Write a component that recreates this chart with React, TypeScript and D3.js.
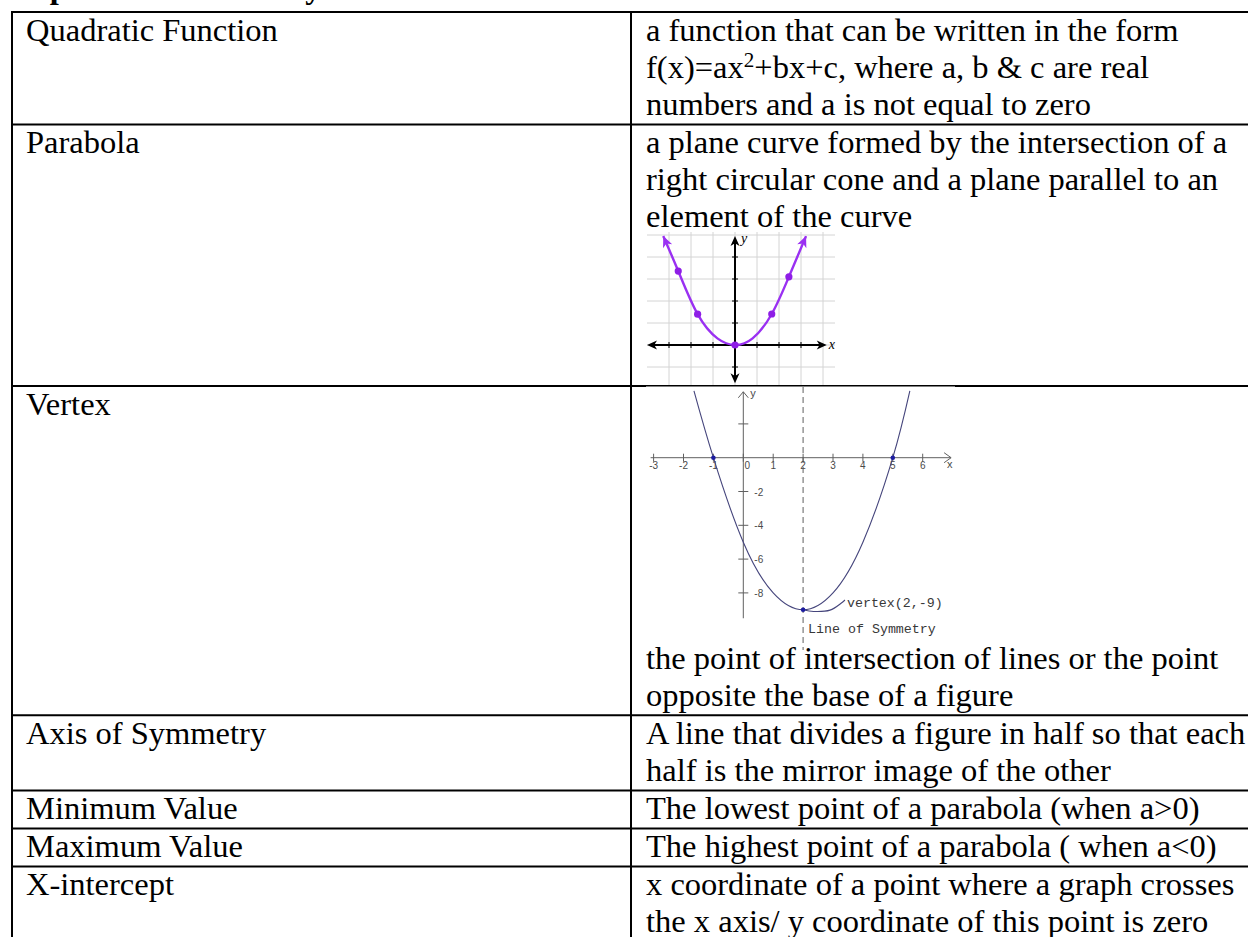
import React, { useEffect, useRef } from 'react'
import * as d3 from 'd3'

// heading above the table (only its descenders show at the top edge)
const heading = 'Important Vocabulary'

// left column
const terms = [
  'Quadratic Function',
  'Parabola',
  'Vertex',
  'Axis of Symmetry',
  'Minimum Value',
  'Maximum Value',
  'X-intercept',
]

// right column, one entry per printed line ("^2" = superscript)
const definitions = [
  ['a function that can be written in the form', 'f(x)=ax^2+bx+c, where a, b & c are real', 'numbers and a is not equal to zero'],
  ['a plane curve formed by the intersection of a', 'right circular cone and a plane parallel to an', 'element of the curve'],
  ['the point of intersection of lines or the point', 'opposite the base of a figure'],
  ['A line that divides a figure in half so that each', 'half is the mirror image of the other'],
  ['The lowest point of a parabola (when a>0)'],
  ['The highest point of a parabola ( when a<0)'],
  ['x coordinate of a point where a graph crosses', 'the x axis/ y coordinate of this point is zero'],
]

// picture carried by each row
const figures = ['', 'parabola', 'vertex', '', '', '', '']

// purple parabola sketch, in grid units
const parabolaGridX = [-3, -2, -1, 0, 1, 2, 3, 4]
const parabolaGridY = [-1, 0, 1, 2, 3, 4, 5]
const parabolaTicksX = [-3, -2, -1, 1, 2, 3]
const parabolaTicksY = [-1, 1, 2, 3, 4]
const parabolaCurve = [[-3.26, 4.95], [-2.58, 3.36], [-1.7, 1.4], [-0.8, 0.3], [0, 0], [0.8, 0.3], [1.67, 1.41], [2.45, 3.1], [3.23, 4.95]]
const parabolaDots = [[-2.58, 3.36], [-1.7, 1.4], [0, 0], [1.67, 1.41], [2.45, 3.1]]

// vertex sketch
const vertexXTicks = [-3, -2, -1, 0, 1, 2, 3, 4, 5, 6]
const vertexYTicks = [2, -2, -4, -6, -8]
const vertexYLabels = ['', '-2', '-4', '-6', '-8']
const vertexCurve = [[-1.65, 3.96], [-1, 0], [0, -5], [1, -8], [2, -9], [3, -8], [4, -5], [5, 0], [5.57, 3.96]]
const vertexDots = [[-1, 0], [5, 0], [2, -9]]
const symmetryX = 2
const leader = [[2, -9], [2.35, -9.1], [2.9, -9.02], [3.28, -8.6], [3.4, -8.42]]
const vertexLabel = 'vertex(2,-9)'
const symmetryLabel = 'Line of Symmetry'

export default function App() {
  const ref = useRef<SVGSVGElement>(null)

  useEffect(() => {
    const svg = d3.select(ref.current)
    svg.selectAll('*').remove()

    const W = 1248, H = 937
    const serif = "'Times New Roman', 'Liberation Serif', serif"
    const fs = 32.5, lineH = 37.2, base = 28.5, pad = 0.8
    const left = 12, mid = 631, textL = 26, textR = 646
    const figH: any = { parabola: 149.2, vertex: 254 }

    // row tops from line counts
    const tops: number[] = []
    let y = 12
    definitions.forEach((lines, i) => {
      tops.push(y)
      y += lines.length * lineH + pad + (figH[figures[i]] || 0)
    })
    tops.push(y)

    svg.append('rect').attr('width', W).attr('height', H).attr('fill', '#fff')

    // heading, mostly off the top
    svg.append('text')
      .attr('x', 10).attr('y', -2)
      .attr('font-family', serif).attr('font-size', fs).attr('font-weight', 'bold')
      .text(heading)

    // table rules
    const grid = svg.append('g').attr('stroke', '#000').attr('stroke-width', 2)
    tops.forEach(t => grid.append('line').attr('x1', left - 1).attr('x2', W).attr('y1', t).attr('y2', t))
    ;[left, mid].forEach(x => grid.append('line').attr('x1', x).attr('x2', x).attr('y1', tops[0] - 1).attr('y2', H))

    function arrow(g: any, x: number, yy: number, angle: number, size: number, color: string) {
      g.append('path')
        .attr('d', `M0,0 L${-size},${-size * 0.45} L${-size * 0.72},0 L${-size},${size * 0.45} Z`)
        .attr('transform', `translate(${x},${yy}) rotate(${angle})`)
        .attr('fill', color)
    }

    // ---------- parabola picture ----------
    {
      const i = figures.indexOf('parabola')
      const ox = 646, oy = 232
      const w = 190, h = tops[i + 1] - 1 - oy
      const g = svg.append('g')
      g.append('rect').attr('x', ox).attr('y', oy).attr('width', w).attr('height', h).attr('fill', '#fff')

      const x = d3.scaleLinear().domain([0, 1]).range([ox + 89, ox + 111])
      const yy = d3.scaleLinear().domain([0, 1]).range([oy + 113, oy + 91])

      const gl = g.append('g').attr('stroke', '#d4d4d4').attr('stroke-width', 1)
      parabolaGridX.forEach(v => gl.append('line').attr('x1', x(v)).attr('x2', x(v)).attr('y1', oy).attr('y2', oy + h))
      parabolaGridY.forEach(v => gl.append('line').attr('x1', x(-4)).attr('x2', ox + w - 1).attr('y1', yy(v)).attr('y2', yy(v)))

      // axes
      const ax = g.append('g').attr('stroke', '#000').attr('stroke-width', 2)
      ax.append('line').attr('x1', x(-4) + 6).attr('x2', x(4.17) - 6).attr('y1', yy(0)).attr('y2', yy(0))
      ax.append('line').attr('x1', x(0)).attr('x2', x(0)).attr('y1', yy(4.95) + 6).attr('y2', yy(-1.74) - 6)
      const tk = g.append('g').attr('stroke', '#000').attr('stroke-width', 1)
      parabolaTicksX.forEach(v => tk.append('line').attr('x1', x(v)).attr('x2', x(v)).attr('y1', yy(0) - 3).attr('y2', yy(0) + 3))
      parabolaTicksY.forEach(v => tk.append('line').attr('x1', x(0) - 3).attr('x2', x(0) + 3).attr('y1', yy(v)).attr('y2', yy(v)))
      arrow(g, x(-4), yy(0), 180, 10, '#000')
      arrow(g, x(4.17), yy(0), 0, 10, '#000')
      arrow(g, x(0), yy(4.95), -90, 10, '#000')
      arrow(g, x(0), yy(-1.74), 90, 10, '#000')
      g.append('text').attr('x', x(4.17) + 2).attr('y', yy(0) + 4)
        .attr('font-family', serif).attr('font-style', 'italic').attr('font-size', 14).text('x')
      g.append('text').attr('x', x(0) + 6).attr('y', yy(4.95) + 7)
        .attr('font-family', serif).attr('font-style', 'italic').attr('font-size', 14).text('y')

      // curve
      const purple = '#9a30f2'
      const line = d3.line<number[]>().x(d => x(d[0])).y(d => yy(d[1])).curve(d3.curveNatural)
      g.append('path').attr('d', line(parabolaCurve)).attr('fill', 'none')
        .attr('stroke', purple).attr('stroke-width', 2.4)
      const n = parabolaCurve.length
      const endAngle = (a: number[], b: number[]) =>
        Math.atan2(yy(b[1]) - yy(a[1]), x(b[0]) - x(a[0])) * 180 / Math.PI
      arrow(g, x(parabolaCurve[0][0]), yy(parabolaCurve[0][1]), endAngle(parabolaCurve[1], parabolaCurve[0]), 11, purple)
      arrow(g, x(parabolaCurve[n - 1][0]), yy(parabolaCurve[n - 1][1]), endAngle(parabolaCurve[n - 2], parabolaCurve[n - 1]), 11, purple)
      g.selectAll('circle.pd').data(parabolaDots).enter().append('circle')
        .attr('cx', d => x(d[0])).attr('cy', d => yy(d[1])).attr('r', 3.6).attr('fill', '#8e1ee6')
    }

    // ---------- vertex picture ----------
    {
      const i = figures.indexOf('vertex')
      const ox = 646, oy = tops[i]
      const w = 309, h = 264
      const g = svg.append('g')
      g.append('rect').attr('x', ox).attr('y', oy + 0.5).attr('width', w).attr('height', h).attr('fill', '#fff')

      const x = d3.scaleLinear().domain([-3, 6]).range([ox + 7.6, ox + 276.7])
      const yy = d3.scaleLinear().domain([-8, 2]).range([oy + 206.9, oy + 37.9])
      const axisColor = '#606060'
      const sans = "Arial, 'Liberation Sans', sans-serif"
      const mono = "'Courier New', 'Liberation Mono', monospace"

      // line of symmetry
      g.append('line').attr('x1', x(symmetryX)).attr('x2', x(symmetryX)).attr('y1', oy + 1).attr('y2', oy + h)
        .attr('stroke', '#7a7a7a').attr('stroke-width', 1.2).attr('stroke-dasharray', '6,4')

      // axes
      const ax = g.append('g').attr('stroke', axisColor).attr('stroke-width', 1).attr('fill', 'none')
      ax.append('line').attr('x1', x(-3.1)).attr('x2', x(6.95)).attr('y1', yy(0)).attr('y2', yy(0))
      ax.append('path').attr('d', `M${x(6.95) - 7},${yy(0) - 5} L${x(6.95)},${yy(0)} L${x(6.95) - 7},${yy(0) + 5}`)
      ax.append('line').attr('x1', x(0)).attr('x2', x(0)).attr('y1', yy(3.9)).attr('y2', yy(-9.5))
      ax.append('path').attr('d', `M${x(0) - 5},${yy(3.9) + 6} L${x(0)},${yy(3.9)} L${x(0) + 5},${yy(3.9) + 6}`)
      vertexXTicks.forEach(v => ax.append('line').attr('x1', x(v)).attr('x2', x(v)).attr('y1', yy(0) - 4).attr('y2', yy(0) + 4))
      vertexYTicks.forEach(v => ax.append('line').attr('x1', x(0) - 5).attr('x2', x(0) + 5).attr('y1', yy(v)).attr('y2', yy(v)))

      const lab = g.append('g').attr('font-family', sans).attr('font-size', 10).attr('fill', '#4a4a4a')
      vertexXTicks.forEach(v => lab.append('text')
        .attr('x', x(v) + (v === 0 ? 4 : 0)).attr('y', yy(0) + 11).attr('text-anchor', 'middle').text(String(v)))
      vertexYTicks.forEach((v, k) => lab.append('text')
        .attr('x', x(0) + 11).attr('y', yy(v) + 4).text(vertexYLabels[k]))
      lab.append('text').attr('x', x(6.95) - 4).attr('y', yy(0) + 10).attr('font-size', 11).text('x')
      lab.append('text').attr('x', x(0) + 7).attr('y', yy(3.9) + 5).attr('font-size', 11).text('y')

      // parabola and leader
      const curveColor = '#45457c'
      const line = d3.line<number[]>().x(d => x(d[0])).y(d => yy(d[1])).curve(d3.curveNatural)
      g.append('path').attr('d', line(vertexCurve)).attr('fill', 'none')
        .attr('stroke', curveColor).attr('stroke-width', 1.1)
      const lead = d3.line<number[]>().x(d => x(d[0])).y(d => yy(d[1])).curve(d3.curveCatmullRom)
      g.append('path').attr('d', lead(leader)).attr('fill', 'none')
        .attr('stroke', curveColor).attr('stroke-width', 1.1)
      g.selectAll('circle.vd').data(vertexDots).enter().append('circle')
        .attr('cx', d => x(d[0])).attr('cy', d => yy(d[1])).attr('r', 2.3).attr('fill', '#1c1ca0')

      const end = leader[leader.length - 1]
      g.append('text').attr('x', x(end[0]) + 2).attr('y', yy(-9) - 3)
        .attr('font-family', mono).attr('font-size', 13.3).attr('fill', '#383838').text(vertexLabel)
      g.append('text').attr('x', x(symmetryX) + 5).attr('y', oy + 247)
        .attr('font-family', mono).attr('font-size', 13.3).attr('fill', '#383838').text(symmetryLabel)
    }

    // ---------- table text ----------
    const txt = svg.append('g').attr('font-family', serif).attr('font-size', fs).attr('fill', '#000')
    terms.forEach((t, i) => txt.append('text').attr('x', textL).attr('y', tops[i] + base).text(t))
    definitions.forEach((lines, i) => {
      const start = tops[i] + base + (figures[i] === 'vertex' ? figH.vertex : 0)
      lines.forEach((s, k) => {
        const t = txt.append('text').attr('x', textR).attr('y', start + k * lineH)
        s.split(/\^(\d)/).forEach((part, j) => {
          if (j % 2 === 1) t.append('tspan').attr('dy', -11).attr('font-size', fs * 0.65).text(part)
          else t.append('tspan').attr('dy', j ? 11 : 0).text(part)
        })
      })
    })
  }, [])

  return (
    <svg ref={ref} width={1248} height={937}
      style={{ position: 'absolute', left: 0, top: 0, display: 'block' }} />
  )
}
